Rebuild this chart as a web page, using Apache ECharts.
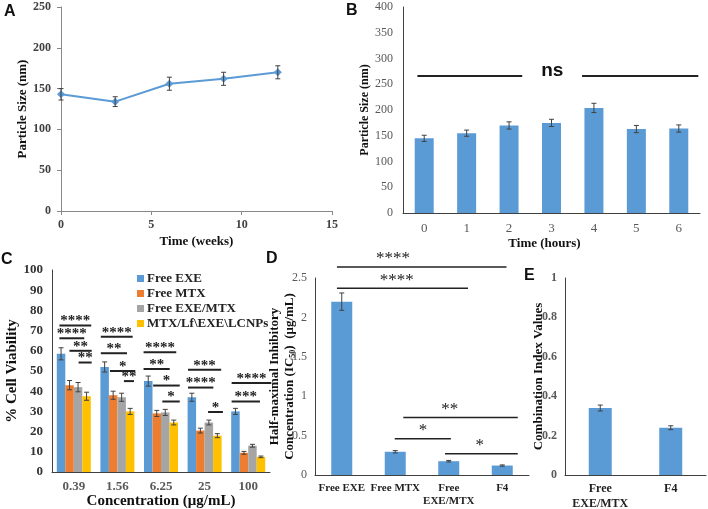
<!DOCTYPE html>
<html><head><meta charset="utf-8">
<script src="https://cdn.jsdelivr.net/npm/echarts@6/dist/echarts.min.js"></script>
<style>html,body{margin:0;padding:0;background:#fff}#c{width:708px;height:509px}</style>
</head><body><div id="c"></div>
<script>
// ---------- Panel A ----------
const weeksA = [0, 3, 6, 9, 12];
const sizeA = [143, 134, 156, 162, 170];
const errA = [7, 6, 8, 8, 8];
// ---------- Panel B ----------
const hoursB = ['0', '1', '2', '3', '4', '5', '6'];
const sizeB = [145, 155, 170, 175, 204, 163, 164];
const errB = [6, 6, 7, 7, 9, 7, 7];
// ns annotation: [x1, x2, y, text, textX]
const sigB = [[-0.16, 2.31, 266, ''], [3.72, 6.46, 266, ''], [3.02, 3.02, 266, 'ns']];
// ---------- Panel C ----------
const concC = ['0.39', '1.56', '6.25', '25', '100'];
const namesC = ['Free EXE', 'Free MTX', 'Free EXE/MTX', 'MTX/Lf\\EXE\\LCNPs'];
const freeEXE = [58.5, 52, 45, 37, 30];
const freeMTX = [43, 38, 29, 20.5, 9.5];
const freeEXEMTX = [42, 37, 29.5, 24.5, 13];
const lcnps = [37.5, 30, 24.5, 18, 7.5];
const errEXE = [3, 2.5, 2.5, 2, 1.5];
const errMTX = [2.3, 2, 1.5, 1.2, 0.7];
const errEXEMTX = [2.3, 2, 1.5, 1.2, 0.7];
const errLCNPs = [2, 1.5, 1.2, 1, 0.4];
const sigC = [
  [-0.33, 0.40, 72.5, '****'], [-0.33, 0.24, 66.2, '****'], [-0.10, 0.41, 60, '**'], [0.11, 0.41, 54.2, '**'],
  [0.62, 1.35, 67, '****'], [0.62, 1.22, 58.8, '**'], [0.83, 1.41, 50, '*'], [1.15, 1.38, 45, '**'],
  [1.60, 2.35, 59.3, '****'], [1.60, 2.20, 51, '**'], [1.82, 2.43, 42.8, '*'], [2.03, 2.43, 34.9, '*'],
  [2.62, 3.38, 50.6, '***'], [2.62, 3.20, 41.8, '****'], [3.08, 3.42, 29.7, '*'],
  [3.62, 4.53, 44, '****'], [3.62, 4.27, 34.9, '***']
];
// ---------- Panel D ----------
const drugsD = ['Free EXE', 'Free MTX', 'Free EXE/MTX', 'F4'];
const ic50D = [2.2, 0.295, 0.175, 0.12];
const errD = [0.11, 0.015, 0.01, 0.008];
const sigD = [
  [-0.09, 3.08, 2.64, '****', 0.96], [-0.09, 2.36, 2.37, '****', 1.03],
  [1.15, 3.29, 0.73, '**', 2.02], [0.99, 2.04, 0.46, '*', 1.52], [1.93, 3.29, 0.27, '*', 2.58]
];
// ---------- Panel E ----------
const drugsE = ['Free EXE/MTX', 'F4'];
const ciE = [0.34, 0.24];
const errE = [0.015, 0.01];

const BLUE = '#5B9BD5', ORANGE = '#ED7D31', GRAY = '#A5A5A5', YELLOW = '#FFC000';
const SERIF = '"Liberation Serif", "Times New Roman", serif';
const SANS = '"Liberation Sans", Arial, sans-serif';
const C_BAR = {barGap: '0%', barCategoryGap: '22%'};

function errSeries(xIdx, yIdx, xs, vals, errs, barIndex, barCount) {
  return {
    type: 'custom', xAxisIndex: xIdx, yAxisIndex: yIdx, z: 10, silent: true,
    data: vals.map((v, i) => [xs[i], v, errs[i]]),
    renderItem: (params, api) => {
      const x = api.value(0), y = api.value(1), e = api.value(2);
      let off = 0;
      if (barCount) {
        const lay = api.barLayout(Object.assign({count: barCount}, C_BAR));
        off = lay[barIndex].offsetCenter;
      }
      const a = api.coord([x, y + e]), b = api.coord([x, y - e]);
      const cx = a[0] + off, w = 2.5;
      const st = {stroke: '#404040', lineWidth: 1};
      return {type: 'group', children: [
        {type: 'line', shape: {x1: cx, y1: a[1], x2: cx, y2: b[1]}, style: st},
        {type: 'line', shape: {x1: cx - w, y1: a[1], x2: cx + w, y2: a[1]}, style: st},
        {type: 'line', shape: {x1: cx - w, y1: b[1], x2: cx + w, y2: b[1]}, style: st}
      ]};
    }
  };
}

function annotSeries(xIdx, yIdx, items, st) {
  return {
    type: 'custom', xAxisIndex: xIdx, yAxisIndex: yIdx, z: 20, silent: true, clip: false,
    data: items.map(d => [d[0], d[1], d[2]]),
    renderItem: (params, api) => {
      const it = items[params.dataIndex];
      const p1 = api.coord([it[0], it[2]]), p2 = api.coord([it[1], it[2]]);
      const ch = [];
      if (it[1] > it[0]) ch.push({type: 'line', shape: {x1: p1[0], y1: p1[1], x2: p2[0], y2: p2[1]},
        style: {stroke: st.stroke, lineWidth: st.lineWidth}});
      if (it[3]) {
        const tx = it[4] != null ? it[4] : (it[0] + it[1]) / 2;
        const tp = api.coord([tx, it[2]]);
        ch.push({type: 'text', x: tp[0], y: tp[1] - st.textOffset,
          style: {text: it[3], font: st.font, fill: st.color, align: 'center', verticalAlign: 'middle'}});
      }
      return {type: 'group', children: ch};
    }
  };
}

const axisLineDark = {show: true, onZero: false, lineStyle: {color: '#404040', width: 1}};
function tl(size, bold, color) {
  return {fontFamily: SERIF, fontSize: size, fontWeight: bold ? 'bold' : 'normal', color: color};
}

const chart = echarts.init(document.getElementById('c'), null, {renderer: 'canvas'});
chart.setOption({
  backgroundColor: '#fff',
  animation: false,
  grid: [
    {left: 61, top: 7, width: 271, height: 204, outerBoundsMode: 'none'},
    {left: 403, top: 7, width: 297, height: 206, outerBoundsMode: 'none'},
    {left: 52, top: 270, width: 218, height: 202, outerBoundsMode: 'none'},
    {left: 315, top: 278, width: 214, height: 197, outerBoundsMode: 'none'},
    {left: 565, top: 278, width: 141, height: 197, outerBoundsMode: 'none'}
  ],
  legend: {
    data: namesC, orient: 'vertical', left: 132, top: 267, itemWidth: 7, itemHeight: 7, itemGap: 2,
    icon: 'rect', textStyle: {fontFamily: SERIF, fontWeight: 'bold', fontSize: 13, color: '#222', padding: [0, 0, 0, -2]}
  },
  xAxis: [
    {type: 'value', gridIndex: 0, min: 0, max: 15, interval: 5, splitLine: {show: false},
     axisLine: {show: true, onZero: false, lineStyle: {color: '#888'}}, axisTick: {show: true, length: 4, lineStyle: {color: '#888'}},
     axisLabel: Object.assign({margin: 8}, tl(12, true, '#404040')),
     name: 'Time (weeks)', nameLocation: 'middle', nameGap: 24, nameTextStyle: tl(13, true, '#111')},
    {type: 'category', gridIndex: 1, data: hoursB, axisLine: axisLineDark, axisTick: {show: false},
     axisLabel: Object.assign({margin: 9}, tl(13, false, '#595959')),
     name: 'Time (hours)', nameLocation: 'middle', nameGap: 24, nameTextStyle: Object.assign({padding: [0, 14, 0, 0]}, tl(13, true, '#111'))},
    {type: 'value', gridIndex: 1, show: false, min: -0.5, max: 6.5},
    {type: 'category', gridIndex: 2, data: concC, axisLine: axisLineDark, axisTick: {show: false},
     axisLabel: Object.assign({margin: 8}, tl(13, true, '#595959')),
     name: 'Concentration (μg/mL)', nameLocation: 'middle', nameGap: 21, nameTextStyle: tl(15, true, '#111')},
    {type: 'value', gridIndex: 2, show: false, min: -0.5, max: 4.5},
    {type: 'category', gridIndex: 3, data: drugsD, axisLine: axisLineDark, axisTick: {show: false},
     axisLabel: Object.assign({margin: 7, lineHeight: 13, interval: 0,
       formatter: v => v === 'Free EXE/MTX' ? 'Free\nEXE/MTX' : v}, tl(11, true, '#222'))},
    {type: 'value', gridIndex: 3, show: false, min: -0.5, max: 3.5},
    {type: 'category', gridIndex: 4, data: drugsE, axisLine: axisLineDark, axisTick: {show: false},
     axisLabel: Object.assign({margin: 6, lineHeight: 15, interval: 0,
       formatter: v => v === 'Free EXE/MTX' ? 'Free\nEXE/MTX' : v}, tl(12, true, '#222'))}
  ],
  yAxis: [
    {type: 'value', gridIndex: 0, min: 0, max: 250, interval: 50, splitLine: {show: false},
     axisLine: {show: true, onZero: false, lineStyle: {color: '#888'}}, axisTick: {show: true, length: 4, lineStyle: {color: '#888'}},
     axisLabel: Object.assign({margin: 10}, tl(12, true, '#404040')),
     name: 'Particle Size (nm)', nameLocation: 'middle', nameGap: 32, nameTextStyle: tl(13, true, '#111')},
    {type: 'value', gridIndex: 1, min: 0, max: 400, interval: 50, splitLine: {show: false},
     axisLine: axisLineDark, axisTick: {show: false},
     axisLabel: Object.assign({margin: 10}, tl(12, false, '#595959')),
     name: 'Particle Size (nm)', nameLocation: 'middle', nameGap: 32, nameTextStyle: tl(12, true, '#111')},
    {type: 'value', gridIndex: 2, min: 0, max: 100, interval: 10, splitLine: {show: false},
     axisLine: axisLineDark, axisTick: {show: false},
     axisLabel: Object.assign({margin: 9}, tl(13, true, '#333')),
     name: '% Cell Viability', nameLocation: 'middle', nameGap: 31, nameTextStyle: tl(15, true, '#111')},
    {type: 'value', gridIndex: 3, min: 0, max: 2.5, interval: 0.5, splitLine: {show: false},
     axisLine: axisLineDark, axisTick: {show: false},
     axisLabel: Object.assign({margin: 8}, tl(12, false, '#595959')),
     name: 'Half-maximal Inhibitory\nConcentration (IC{s|50})  (μg/mL)', nameLocation: 'middle', nameGap: 18,
     nameMoveOverlap: false,
     nameTextStyle: Object.assign({lineHeight: 15, rich: {s: {fontFamily: SERIF, fontWeight: 'bold', fontSize: 8, color: '#111', padding: [6, 0, 0, 0]}}}, tl(13, true, '#111'))},
    {type: 'value', gridIndex: 4, min: 0, max: 1, interval: 0.2, splitLine: {show: false},
     axisLine: axisLineDark, axisTick: {show: false},
     axisLabel: Object.assign({margin: 8}, tl(12, true, '#595959')),
     name: 'Combination Index Values', nameLocation: 'middle', nameGap: 20, nameMoveOverlap: false,
     nameTextStyle: tl(13, true, '#111')}
  ],
  series: [
    {type: 'line', name: 'A', xAxisIndex: 0, yAxisIndex: 0, data: weeksA.map((w, i) => [w, sizeA[i]]),
     symbol: 'diamond', symbolSize: 8, lineStyle: {color: BLUE, width: 2}, itemStyle: {color: BLUE}},
    errSeries(0, 0, weeksA, sizeA, errA),
    {type: 'bar', name: 'B', xAxisIndex: 1, yAxisIndex: 1, data: sizeB, barWidth: 19, itemStyle: {color: BLUE}},
    errSeries(1, 1, hoursB.map((h, i) => i), sizeB, errB),
    annotSeries(2, 1, sigB, {stroke: '#222', lineWidth: 2, textOffset: 5, font: '600 19px ' + SANS, color: '#111'}),
    {type: 'bar', name: namesC[0], xAxisIndex: 3, yAxisIndex: 2, data: freeEXE, itemStyle: {color: BLUE}, ...C_BAR},
    {type: 'bar', name: namesC[1], xAxisIndex: 3, yAxisIndex: 2, data: freeMTX, itemStyle: {color: ORANGE}, ...C_BAR},
    {type: 'bar', name: namesC[2], xAxisIndex: 3, yAxisIndex: 2, data: freeEXEMTX, itemStyle: {color: GRAY}, ...C_BAR},
    {type: 'bar', name: namesC[3], xAxisIndex: 3, yAxisIndex: 2, data: lcnps, itemStyle: {color: YELLOW}, ...C_BAR},
    errSeries(3, 2, concC.map((c, i) => i), freeEXE, errEXE, 0, 4),
    errSeries(3, 2, concC.map((c, i) => i), freeMTX, errMTX, 1, 4),
    errSeries(3, 2, concC.map((c, i) => i), freeEXEMTX, errEXEMTX, 2, 4),
    errSeries(3, 2, concC.map((c, i) => i), lcnps, errLCNPs, 3, 4),
    annotSeries(4, 2, sigC, {stroke: '#222', lineWidth: 2, textOffset: 4, font: 'bold 15px ' + SERIF, color: '#222'}),
    {type: 'bar', name: 'D', xAxisIndex: 5, yAxisIndex: 3, data: ic50D, barWidth: 21, itemStyle: {color: BLUE}},
    errSeries(5, 3, drugsD.map((d, i) => i), ic50D, errD),
    annotSeries(6, 3, sigD, {stroke: '#222', lineWidth: 1.5, textOffset: 8, font: '17px ' + SERIF, color: '#222'}),
    {type: 'bar', name: 'E', xAxisIndex: 7, yAxisIndex: 4, data: ciE, barWidth: 23, itemStyle: {color: BLUE}},
    errSeries(7, 4, drugsE.map((d, i) => i), ciE, errE)
  ],
  graphic: [
    {type: 'text', left: 4, top: 4, style: {text: 'A', font: 'bold 16px ' + SANS, fill: '#111'}},
    {type: 'text', left: 346, top: 3, style: {text: 'B', font: 'bold 16px ' + SANS, fill: '#111'}},
    {type: 'text', left: 1, top: 252, style: {text: 'C', font: 'bold 16px ' + SANS, fill: '#111'}},
    {type: 'text', left: 266, top: 251, style: {text: 'D', font: 'bold 16px ' + SANS, fill: '#111'}},
    {type: 'text', left: 524, top: 268, style: {text: 'E', font: 'bold 16px ' + SANS, fill: '#111'}}
  ]
});
</script>
</body></html>
